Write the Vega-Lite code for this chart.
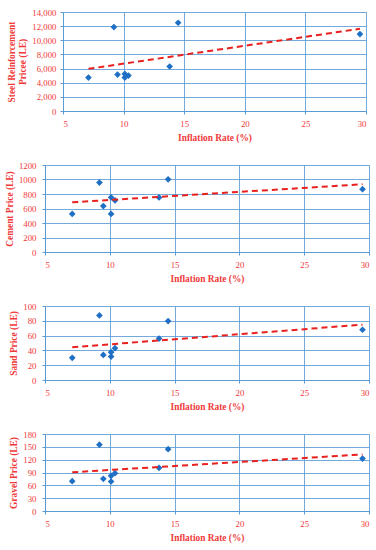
{
  "$schema": "https://vega.github.io/schema/vega-lite/v6.json",
  "padding": {"left": 4, "top": 8, "right": 8, "bottom": 3},
  "background": "white",
  "spacing": 18,
  "data": {"values": [
    {"rate": 7.1, "steel": 4725, "cement": 525, "sand": 29.9, "gravel": 69.8},
    {"rate": 9.2, "steel": 11870, "cement": 958, "sand": 87.3, "gravel": 155},
    {"rate": 9.5, "steel": 5154, "cement": 634, "sand": 33.9, "gravel": 75.3},
    {"rate": 10.1, "steel": 5250, "cement": 753, "sand": 37.6, "gravel": 82.3},
    {"rate": 10.1, "steel": 4725, "cement": 525, "sand": 31.7, "gravel": 69},
    {"rate": 10.4, "steel": 5010, "cement": 712, "sand": 43, "gravel": 88.5},
    {"rate": 13.8, "steel": 6290, "cement": 753, "sand": 56, "gravel": 101},
    {"rate": 14.5, "steel": 12482, "cement": 1003, "sand": 79.6, "gravel": 144.4},
    {"rate": 29.5, "steel": 10876, "cement": 867, "sand": 67.9, "gravel": 122.6}
  ]},
  "config": {
    "font": "Liberation Serif",
    "view": {"stroke": null},
    "axis": {
      "labelFont": "Liberation Serif",
      "titleFont": "Liberation Serif",
      "labelFontSize": 8.8,
      "titleFontSize": 9.4,
      "titleFontWeight": "bold",
      "labelColor": "#F03A3A",
      "titleColor": "#F03A3A",
      "gridColor": "#5B9BD5",
      "gridOpacity": 0.85,
      "domainColor": "#5B9BD5",
      "tickColor": "#5B9BD5",
      "tickSize": 3
    },
    "axisX": {"labelPadding": 5, "titlePadding": 6},
    "axisY": {"labelPadding": 6, "titlePadding": 4}
  },
  "vconcat": [
    {
      "spacing": -40,
      "hconcat": [
        {"width": 1, "height": 1, "data": {"values": []}, "mark": {"type": "point", "opacity": 0}},
        {
          "width": 303, "height": 99,
          "encoding": {
            "x": {"field": "rate", "type": "quantitative", "scale": {"domain": [5, 30]}, "axis": {"values": [5, 10, 15, 20, 25, 30], "title": "Inflation Rate (%)"}},
            "y": {"field": "steel", "type": "quantitative", "scale": {"domain": [0, 14000]}, "axis": {"values": [0, 2000, 4000, 6000, 8000, 10000, 12000, 14000], "format": ",.0f", "title": ["Steel Reinforcement", "Pricee  (LE)"], "labelPadding": 4}}
          },
          "layer": [
            {"mark": {"type": "point", "shape": "diamond", "filled": true, "color": "#1F6FC5", "opacity": 1, "size": 45}},
            {"transform": [{"regression": "steel", "on": "rate"}],
             "mark": {"type": "line", "color": "#E8201E", "strokeDash": [6, 4], "strokeWidth": 2}}
          ]
        }
      ]
    },
    {
      "width": 324, "height": 87,
      "encoding": {
        "x": {"field": "rate", "type": "quantitative", "scale": {"domain": [5, 30]}, "axis": {"values": [5, 10, 15, 20, 25, 30], "title": "Inflation Rate (%)"}},
        "y": {"field": "cement", "type": "quantitative", "scale": {"domain": [0, 1200]}, "axis": {"values": [0, 200, 400, 600, 800, 1000, 1200], "format": "d", "title": "Cement Price (LE)"}}
      },
      "layer": [
        {"mark": {"type": "point", "shape": "diamond", "filled": true, "color": "#1F6FC5", "opacity": 1, "size": 45}},
        {"transform": [{"regression": "cement", "on": "rate"}],
         "mark": {"type": "line", "color": "#E8201E", "strokeDash": [6, 4], "strokeWidth": 2}}
      ]
    },
    {
      "width": 324, "height": 74,
      "encoding": {
        "x": {"field": "rate", "type": "quantitative", "scale": {"domain": [5, 30]}, "axis": {"values": [5, 10, 15, 20, 25, 30], "title": "Inflation Rate (%)"}},
        "y": {"field": "sand", "type": "quantitative", "scale": {"domain": [0, 100]}, "axis": {"values": [0, 20, 40, 60, 80, 100], "format": "d", "title": "Sand Price (LE)"}}
      },
      "layer": [
        {"mark": {"type": "point", "shape": "diamond", "filled": true, "color": "#1F6FC5", "opacity": 1, "size": 45}},
        {"transform": [{"regression": "sand", "on": "rate"}],
         "mark": {"type": "line", "color": "#E8201E", "strokeDash": [6, 4], "strokeWidth": 2}}
      ]
    },
    {
      "width": 324, "height": 77,
      "encoding": {
        "x": {"field": "rate", "type": "quantitative", "scale": {"domain": [5, 30]}, "axis": {"values": [5, 10, 15, 20, 25, 30], "title": "Inflation Rate (%)"}},
        "y": {"field": "gravel", "type": "quantitative", "scale": {"domain": [0, 180]}, "axis": {"values": [0, 30, 60, 90, 120, 150, 180], "format": "d", "title": "Gravel Price (LE)"}}
      },
      "layer": [
        {"mark": {"type": "point", "shape": "diamond", "filled": true, "color": "#1F6FC5", "opacity": 1, "size": 45}},
        {"transform": [{"regression": "gravel", "on": "rate"}],
         "mark": {"type": "line", "color": "#E8201E", "strokeDash": [6, 4], "strokeWidth": 2}}
      ]
    }
  ]
}
